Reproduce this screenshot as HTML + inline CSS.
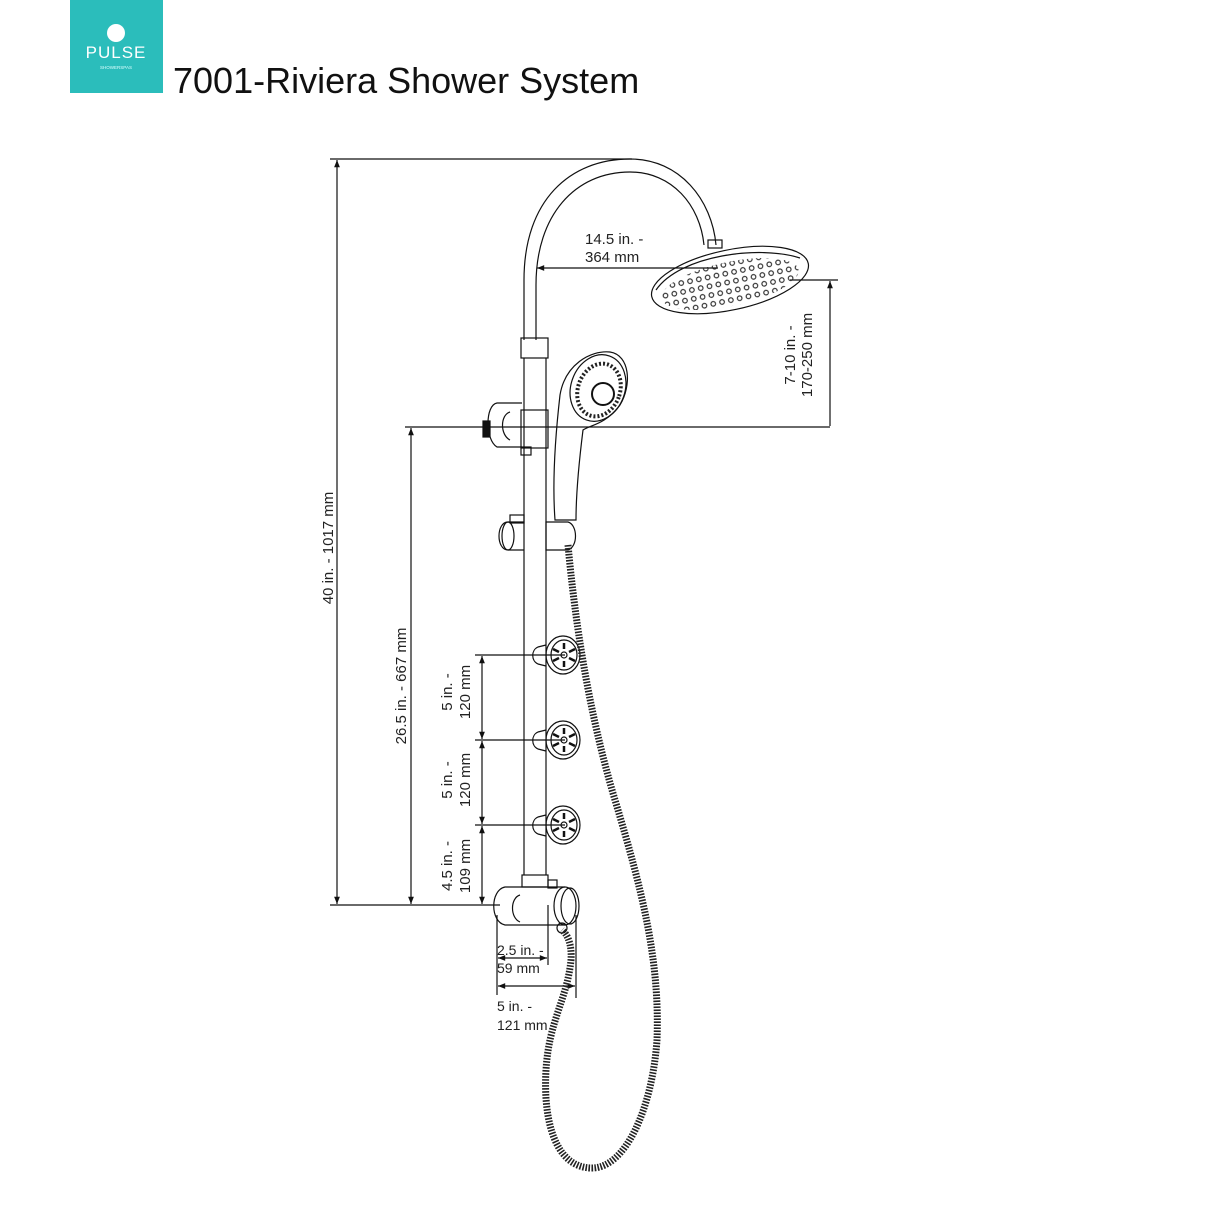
<!DOCTYPE html>
<html><head><meta charset="utf-8"><style>
body{margin:0;background:#fff;}
svg{display:block;}
text{font-family:"Liberation Sans",sans-serif;fill:#222;}
</style></head><body>
<svg width="1214" height="1214" viewBox="0 0 1214 1214" xmlns="http://www.w3.org/2000/svg">
<defs>
<marker id="a" viewBox="0 0 10 10" refX="10" refY="5" markerWidth="8" markerHeight="6" orient="auto-start-reverse"><path d="M0,1 L10,5 L0,9z" fill="#111"/></marker>
<pattern id="dots" width="9" height="9" patternUnits="userSpaceOnUse" patternTransform="rotate(-12)"><circle cx="4.5" cy="4.5" r="2.3" fill="none" stroke="#222" stroke-width="1.1"/></pattern>
<clipPath id="hc"><ellipse cx="730" cy="284" rx="70" ry="22" transform="rotate(-12 730 284)"/></clipPath>
</defs>
<rect x="70" y="0" width="93" height="93" fill="#2bbdbb"/>
<circle cx="116" cy="33" r="9" fill="#fff"/>
<text x="116" y="58" text-anchor="middle" font-size="17" style="fill:#fff;letter-spacing:1px">PULSE</text>
<text x="116" y="69" text-anchor="middle" font-size="4.5" style="fill:#dff">SHOWERSPAS</text>
<text x="173" y="93" font-size="36" style="fill:#111">7001-Riviera Shower System</text>

<g fill="none" stroke="#111" stroke-width="1.2">
<line x1="330" y1="159" x2="632" y2="159"/>
<line x1="337" y1="160" x2="337" y2="904" marker-start="url(#a)" marker-end="url(#a)"/>
<line x1="330" y1="905" x2="500" y2="905"/>
<line x1="405" y1="427" x2="830" y2="427"/>
<line x1="411" y1="428" x2="411" y2="904" marker-start="url(#a)" marker-end="url(#a)"/>
<line x1="790" y1="280" x2="838" y2="280"/>
<line x1="830" y1="281" x2="830" y2="426" marker-start="url(#a)"/>
<line x1="537" y1="268" x2="718" y2="268" marker-start="url(#a)"/>
<line x1="475" y1="655" x2="565" y2="655"/>
<line x1="475" y1="740" x2="565" y2="740"/>
<line x1="475" y1="825" x2="565" y2="825"/>
<line x1="482" y1="656" x2="482" y2="739" marker-start="url(#a)" marker-end="url(#a)"/>
<line x1="482" y1="741" x2="482" y2="824" marker-start="url(#a)" marker-end="url(#a)"/>
<line x1="482" y1="826" x2="482" y2="904" marker-start="url(#a)" marker-end="url(#a)"/>
<line x1="497" y1="915" x2="497" y2="995"/>
<line x1="548" y1="905" x2="548" y2="965"/>
<line x1="576" y1="915" x2="576" y2="998"/>
<line x1="498" y1="958" x2="547" y2="958" marker-start="url(#a)" marker-end="url(#a)"/>
<line x1="498" y1="986" x2="575" y2="986" marker-start="url(#a)" marker-end="url(#a)"/>

<path d="M524,340 L524,280 C524,200 570,159 630,159 C680,159 712,200 716,245"/>
<path d="M536,340 L536,285 C536,215 575,172 630,172 C672,172 700,205 704,245"/>
<rect x="521" y="338" width="27" height="20"/>
<line x1="524" y1="358" x2="524" y2="875"/>
<line x1="546" y1="358" x2="546" y2="875"/>
<ellipse cx="730" cy="280" rx="80" ry="30" transform="rotate(-12 730 280)"/>
<path d="M656,290 C680,255 760,245 800,258"/>
<rect x="708" y="240" width="14" height="8"/>
<rect x="650" y="240" width="165" height="80" fill="url(#dots)" stroke="none" clip-path="url(#hc)"/>
<path d="M522,403 L497,403 C485,405 485,440 497,447 L522,447"/>
<path d="M510,412 C500,415 500,435 510,440"/>
<rect x="521" y="410" width="27" height="38"/>
<rect x="521" y="447" width="10" height="8"/>
<rect x="483" y="421" width="7" height="16" fill="#111"/>
<path d="M555,520 C552,480 556,430 560,395 C565,365 590,350 610,352 C630,355 632,385 620,405 C605,425 590,425 583,430 C578,470 576,500 576,520 Z"/>
<ellipse cx="598" cy="388" rx="27" ry="34" transform="rotate(20 598 388)"/>
<ellipse cx="599" cy="390" rx="21" ry="27" transform="rotate(20 599 390)" stroke="#222" stroke-width="4" stroke-dasharray="2 2"/>
<circle cx="603" cy="394" r="11" stroke-width="2"/>
<rect x="510" y="515" width="14" height="8"/>
<path d="M524,522 L508,522 C496,522 496,550 508,550 L524,550"/>
<ellipse cx="508" cy="536" rx="6" ry="14"/>
<path d="M546,522 L568,522 C578,525 578,547 568,550 L546,550 Z"/>
<g id="jet">
<ellipse cx="563" cy="655" rx="17" ry="19"/>
<ellipse cx="564" cy="655" rx="13" ry="15"/>
<path d="M546,645 L538,647 C531,650 531,661 538,664 L546,666"/>
<circle cx="564" cy="655" r="3"/>
<path d="M564,643 v6 M564,661 v6 M553,649 l6,3 M575,649 l-6,3 M553,661 l6,-3 M575,661 l-6,-3" stroke-width="2.5"/>
</g>
<use href="#jet" y="85"/>
<use href="#jet" y="170"/>
<rect x="522" y="875" width="26" height="12"/>
<path d="M565,887 L505,887 C490,890 490,922 505,925 L565,925"/>
<path d="M520,895 C510,898 510,918 520,922"/>
<ellipse cx="565" cy="906" rx="11" ry="19"/>
<ellipse cx="570" cy="906" rx="9" ry="18"/>
<rect x="548" y="880" width="9" height="8"/>
<circle cx="562" cy="928" r="5"/>
</g>
<path d="M568,545 C575,620 588,710 615,800 C642,890 660,960 657,1040 C652,1110 625,1168 592,1168 C555,1168 543,1120 546,1070 C549,1020 567,1000 571,960 C572,945 568,935 562,930" fill="none" stroke="#222" stroke-width="7" stroke-dasharray="1.6 1.4"/>
<g font-size="15">
<text transform="translate(333,548) rotate(-90)" text-anchor="middle">40 in. - 1017 mm</text>
<text transform="translate(406,686) rotate(-90)" text-anchor="middle">26.5 in. - 667 mm</text>
<text transform="translate(795,355) rotate(-90)" text-anchor="middle">7-10 in. -</text>
<text transform="translate(812,355) rotate(-90)" text-anchor="middle">170-250 mm</text>
<text x="585" y="244">14.5 in. -</text>
<text x="585" y="262">364 mm</text>
<text transform="translate(452,692) rotate(-90)" text-anchor="middle">5 in. -</text>
<text transform="translate(470,692) rotate(-90)" text-anchor="middle">120 mm</text>
<text transform="translate(452,780) rotate(-90)" text-anchor="middle">5 in. -</text>
<text transform="translate(470,780) rotate(-90)" text-anchor="middle">120 mm</text>
<text transform="translate(452,866) rotate(-90)" text-anchor="middle">4.5 in. -</text>
<text transform="translate(470,866) rotate(-90)" text-anchor="middle">109 mm</text>
<text x="497" y="955" font-size="14">2.5 in. -</text>
<text x="497" y="973" font-size="14">59 mm</text>
<text x="497" y="1011" font-size="14">5 in. -</text>
<text x="497" y="1030" font-size="14">121 mm</text>
</g>
</svg>
</body></html>
